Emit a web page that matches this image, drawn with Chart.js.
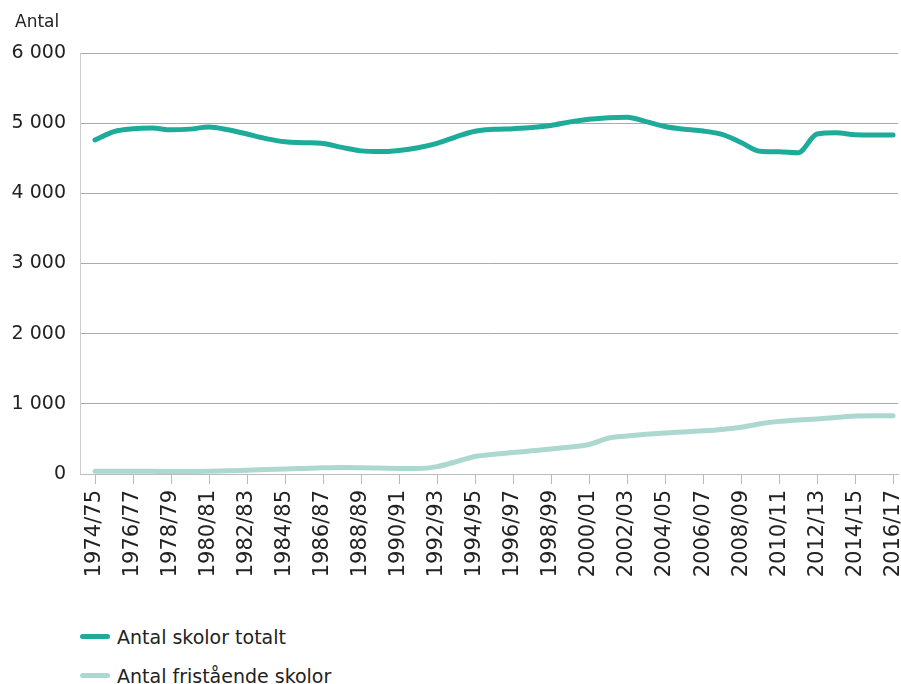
<!DOCTYPE html>
<html>
<head>
<meta charset="utf-8">
<script src="https://cdn.jsdelivr.net/npm/chart.js@4/dist/chart.umd.min.js"></script>
<style>
  body { margin: 0; background: #fff; font-family: "DejaVu Sans", sans-serif; }
  #wrap { position: relative; width: 901px; height: 684px; }
  #ytitle { position: absolute; left: 15px; top: 11px; font-size: 17px; color: #222; }
  #legend { position: absolute; left: 80px; top: 617px; font-size: 19px; color: #222; }
  .item { display: flex; align-items: center; height: 39px; }
  .swatch { width: 30px; height: 5px; border-radius: 3px; margin-right: 7px; }
</style>
</head>
<body>
<div id="wrap">
  <div id="ytitle">Antal</div>
  <canvas id="chart" width="901" height="600"></canvas>
  <div id="legend"></div>
</div>
<script>
// Läsår 1974/75 - 2016/17
const lasar = [
  '1974/75','1975/76','1976/77','1977/78','1978/79','1979/80','1980/81','1981/82','1982/83','1983/84',
  '1984/85','1985/86','1986/87','1987/88','1988/89','1989/90','1990/91','1991/92','1992/93','1993/94',
  '1994/95','1995/96','1996/97','1997/98','1998/99','1999/00','2000/01','2001/02','2002/03','2003/04',
  '2004/05','2005/06','2006/07','2007/08','2008/09','2009/10','2010/11','2011/12','2012/13','2013/14',
  '2014/15','2015/16','2016/17'
];

const skolorTotalt = [
  4760, 4880, 4920, 4930, 4905, 4915, 4945, 4905, 4845, 4780,
  4735, 4722, 4710, 4655, 4605, 4595, 4612, 4650, 4712, 4805,
  4885, 4912, 4922, 4938, 4968, 5018, 5055, 5078, 5085, 5022,
  4952, 4912, 4888, 4840, 4725, 4600, 4592, 4578, 4845, 4862,
  4835, 4832, 4832
];

const skolorFristaende = [
  40, 40, 40, 38, 35, 35, 38, 45, 55, 65,
  72, 80, 88, 92, 90, 85, 80, 78, 105, 175,
  250, 282, 305, 330, 355, 385, 420, 510, 540, 565,
  585, 600, 615, 635, 665, 715, 750, 770, 785, 805,
  825, 830, 830
];

const yTicks = [0, 1000, 2000, 3000, 4000, 5000, 6000];

const fontFam = '"DejaVu Sans", sans-serif';

const datasets = [
  { label: 'Antal skolor totalt', data: skolorTotalt.map((v, i) => ({ x: i, y: v })), borderColor: '#1fab9a' },
  { label: 'Antal fristående skolor', data: skolorFristaende.map((v, i) => ({ x: i, y: v })), borderColor: '#acd8cf' }
];
datasets.forEach(d => {
  d.borderWidth = 5;
  d.pointRadius = 0;
  d.fill = false;
  d.cubicInterpolationMode = 'monotone';
  d.borderCapStyle = 'round';
});

const ctx = document.getElementById('chart').getContext('2d');
const chart = new Chart(ctx, {
  type: 'line',
  data: { datasets: datasets },
  options: {
    responsive: false,
    animation: false,
    layout: { padding: { top: 53, right: 3, left: 0, bottom: 0 } },
    plugins: { legend: { display: false }, tooltip: { enabled: false } },
    scales: {
      x: {
        type: 'linear',
        min: -0.79,
        max: 42.26,
        afterBuildTicks: s => { s.ticks = lasar.map((l, i) => ({ value: i })).filter(t => t.value % 2 === 0); },
        afterFit: s => { s.height = 126; s.paddingLeft = 0; s.paddingRight = 0; },
        ticks: {
          autoSkip: false,
          maxRotation: 90,
          minRotation: 90,
          padding: 6,
          color: '#222',
          font: { family: fontFam, size: 21 },
          callback: v => lasar[v]
        },
        grid: { drawOnChartArea: false, drawTicks: true, tickLength: 10, color: '#bbb' },
        border: { color: '#bbb' }
      },
      y: {
        min: 0,
        max: 6000,
        afterBuildTicks: s => { s.ticks = yTicks.map(v => ({ value: v })); },
        afterFit: s => { s.width = 80; },
        ticks: {
          padding: 14,
          color: '#222',
          font: { family: fontFam, size: 19 },
          callback: v => v === 0 ? '0' : (v / 1000) + ' 000'
        },
        grid: { color: '#aaa', drawTicks: false },
        border: { color: '#ccc', display: true }
      }
    }
  }
});

// legend
const legend = document.getElementById('legend');
chart.data.datasets.forEach(d => {
  const row = document.createElement('div');
  row.className = 'item';
  const sw = document.createElement('div');
  sw.className = 'swatch';
  sw.style.background = d.borderColor;
  const txt = document.createElement('span');
  txt.textContent = d.label;
  row.appendChild(sw);
  row.appendChild(txt);
  legend.appendChild(row);
});
</script>
</body>
</html>
